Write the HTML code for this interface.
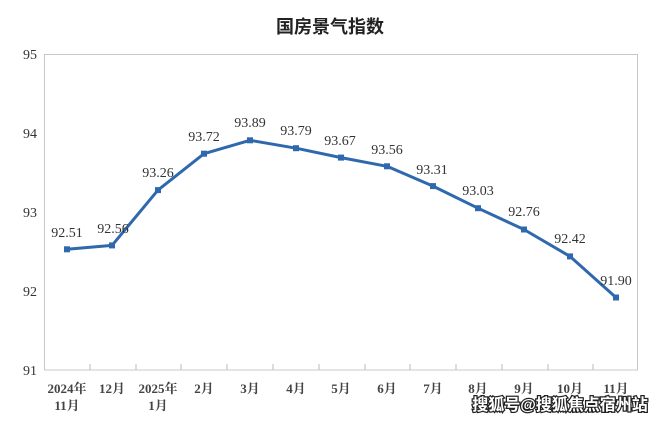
<!DOCTYPE html>
<html><head><meta charset="utf-8"><style>
html,body{margin:0;padding:0;background:#fff;}
</style></head><body>
<svg width="660" height="421" xmlns="http://www.w3.org/2000/svg" style="display:block">
<rect width="660" height="421" fill="#fff"/>
<text x="330" y="33" text-anchor="middle" font-family="'Liberation Sans','Noto Sans CJK SC',sans-serif" font-size="18" font-weight="bold" fill="#222">国房景气指数</text>
<rect x="44.5" y="54.5" width="593" height="315.5" fill="none" stroke="#c8c8c8" stroke-width="1"/>
<g stroke="#bbb" stroke-width="1">
<line x1="90" y1="370" x2="90" y2="364"/><line x1="136" y1="370" x2="136" y2="364"/><line x1="181" y1="370" x2="181" y2="364"/><line x1="227" y1="370" x2="227" y2="364"/><line x1="273" y1="370" x2="273" y2="364"/><line x1="319" y1="370" x2="319" y2="364"/><line x1="365" y1="370" x2="365" y2="364"/><line x1="410" y1="370" x2="410" y2="364"/><line x1="456" y1="370" x2="456" y2="364"/><line x1="502" y1="370" x2="502" y2="364"/><line x1="548" y1="370" x2="548" y2="364"/><line x1="593" y1="370" x2="593" y2="364"/>
</g>
<g font-family="'Liberation Serif','Noto Serif CJK SC',serif" font-size="14" fill="#333" text-anchor="middle">
<text x="30" y="59">95</text><text x="30" y="138">94</text><text x="30" y="217">93</text><text x="30" y="296">92</text><text x="30" y="375">91</text>
</g>
<g font-family="'Liberation Serif','Noto Serif CJK SC',serif" font-size="13" font-weight="bold" fill="#444" text-anchor="middle">
<text x="67" y="393">2024年</text><text x="67" y="410">11月</text>
<text x="112" y="393">12月</text>
<text x="158" y="393">2025年</text><text x="158" y="410">1月</text>
<text x="204" y="393">2月</text><text x="250" y="393">3月</text><text x="296" y="393">4月</text><text x="341" y="393">5月</text><text x="387" y="393">6月</text><text x="433" y="393">7月</text><text x="478" y="393">8月</text><text x="524" y="393">9月</text><text x="570" y="393">10月</text><text x="616" y="393">11月</text>
</g>
<polyline fill="none" stroke="#2f69ad" stroke-width="3" stroke-linejoin="round" points="67,249.3 112,245.4 158,190.1 204,153.7 250,140.3 296,148.2 341,157.6 387,166.3 433,186.1 478,208.2 524,229.5 570,256.4 616,297.5"/>
<g fill="#2f69ad">
<rect x="64" y="246.3" width="6" height="6"/><rect x="109" y="242.4" width="6" height="6"/><rect x="155" y="187.1" width="6" height="6"/><rect x="201" y="150.7" width="6" height="6"/><rect x="247" y="137.3" width="6" height="6"/><rect x="293" y="145.2" width="6" height="6"/><rect x="338" y="154.6" width="6" height="6"/><rect x="384" y="163.3" width="6" height="6"/><rect x="430" y="183.1" width="6" height="6"/><rect x="475" y="205.2" width="6" height="6"/><rect x="521" y="226.5" width="6" height="6"/><rect x="567" y="253.4" width="6" height="6"/><rect x="613" y="294.5" width="6" height="6"/>
</g>
<g font-family="'Liberation Serif',serif" font-size="14" fill="#333" text-anchor="middle">
<text x="67" y="237">92.51</text><text x="113" y="233">92.56</text><text x="158" y="177">93.26</text><text x="204" y="141">93.72</text><text x="250" y="127">93.89</text><text x="296" y="135">93.79</text><text x="340" y="145">93.67</text><text x="387" y="154">93.56</text><text x="432" y="174">93.31</text><text x="478" y="195">93.03</text><text x="524" y="216">92.76</text><text x="570" y="243">92.42</text><text x="616" y="285">91.90</text>
</g>
<text x="560" y="410" text-anchor="middle" font-family="'Liberation Sans','Noto Sans CJK SC',sans-serif" font-size="16" font-weight="bold" fill="#fff" stroke="#222" stroke-width="2.5" paint-order="stroke">搜狐号@搜狐焦点宿州站</text>
</svg>
</body></html>
